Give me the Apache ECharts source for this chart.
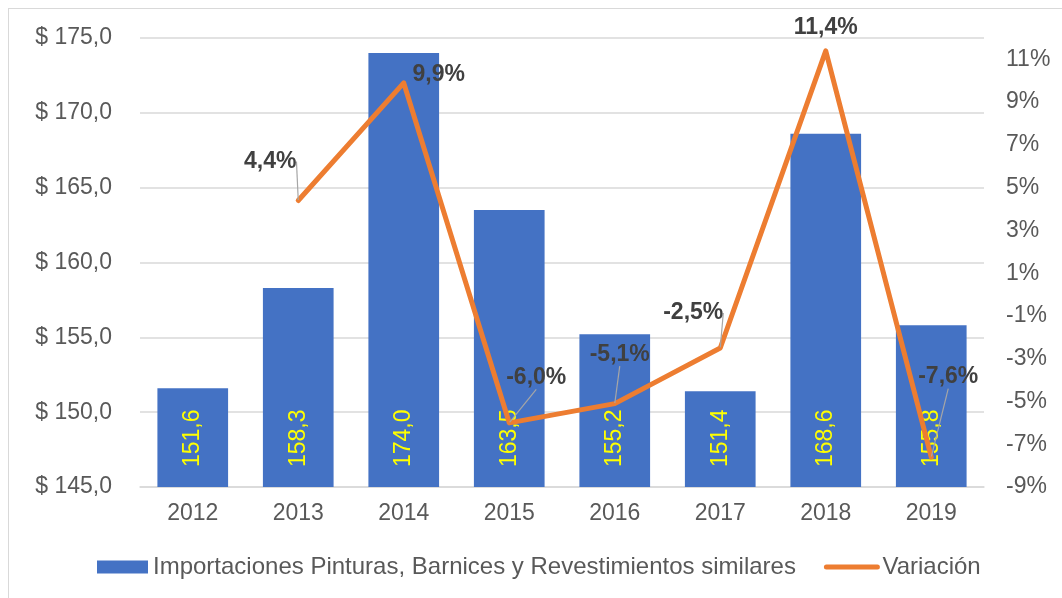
<!DOCTYPE html>
<html>
<head>
<meta charset="utf-8">
<script src="https://cdn.jsdelivr.net/npm/echarts@6/dist/echarts.min.js"></script>
<style>
  html, body { margin: 0; padding: 0; background: #fff; }
  #wrap { position: relative; width: 1062px; height: 598px; overflow: hidden; }
  #frame { position: absolute; left: 8px; top: 8px; width: 1200px; height: 800px; border: 1px solid #d9d9d9; }
  #chart { position: absolute; left: 0; top: 0; width: 1062px; height: 598px; }
</style>
</head>
<body>
<div id="wrap">
  <div id="frame"></div>
  <div id="chart"></div>
</div>
<script>
var years = ['2012', '2013', '2014', '2015', '2016', '2017', '2018', '2019'];
var imports = [151.6, 158.3, 174.0, 163.5, 155.2, 151.4, 168.6, 155.8];
var variation = [null, 4.4, 9.9, -6.0, -5.1, -2.5, 11.4, -7.6];

// where each % label sits relative to its point
var labelShift = [[0, 0], [-28, -22], [35, 9], [27, -28], [5, -32], [-27, -18], [0, -6], [17, -63]];
var noGuide = [2, 6];

var chart = echarts.init(document.getElementById('chart'));

function comma(v, d) {
    return v.toFixed(d).replace('.', ',');
}

var barName = 'Importaciones Pinturas, Barnices y Revestimientos similares';

var option = {
    animation: false,
    textStyle: { fontFamily: 'Liberation Sans, Arial, sans-serif' },
    grid: { left: 140, right: 78, top: 38, bottom: 111 },
    legend: {
        left: 92,
        top: 550,
        itemWidth: 51,
        itemHeight: 13,
        itemGap: 28,
        textStyle: { fontSize: 24, color: '#595959' },
        data: [
            { name: barName, icon: 'rect' },
            { name: 'Variación', itemStyle: { opacity: 0 }, lineStyle: { width: 5, cap: 'round', color: '#ED7D31' } }
        ]
    },
    xAxis: {
        type: 'category',
        data: years,
        axisLine: { onZero: false, lineStyle: { color: '#d9d9d9', width: 1.5 } },
        axisTick: { show: false },
        axisLabel: { fontSize: 23, color: '#595959', margin: 15 }
    },
    yAxis: [{
        type: 'value',
        min: 145,
        max: 175,
        interval: 5,
        axisLine: { show: false },
        axisTick: { show: false },
        splitLine: { lineStyle: { color: '#d9d9d9', width: 1.5 } },
        axisLabel: {
            fontSize: 23,
            color: '#595959',
            margin: 28,
            formatter: function (v) { return '$ ' + comma(v, 1); }
        }
    }, {
        type: 'value',
        min: -9,
        max: 12,
        interval: 1,
        axisLine: { show: false },
        axisTick: { show: false },
        splitLine: { show: false },
        axisLabel: {
            fontSize: 23,
            color: '#595959',
            margin: 22,
            formatter: function (v) {
                return (Math.abs(v % 2) === 1 && v <= 11) ? v + '%' : '';
            }
        }
    }],
    series: [{
        name: barName,
        type: 'bar',
        data: imports,
        barWidth: '67%',
        itemStyle: { color: '#4472C4' },
        label: {
            show: true,
            position: 'insideBottom',
            distance: 20,
            rotate: 90,
            align: 'left',
            verticalAlign: 'middle',
            fontSize: 23,
            color: '#ffff00',
            formatter: function (p) { return comma(p.value, 1); }
        }
    }, {
        name: 'Variación',
        type: 'line',
        yAxisIndex: 1,
        data: variation.map(function (v, i) {
            return noGuide.indexOf(i) >= 0 ? { value: v, labelLine: { show: false } } : v;
        }),
        symbol: 'circle',
        symbolSize: 1,
        itemStyle: { color: '#ED7D31' },
        lineStyle: { color: '#ED7D31', width: 5, cap: 'round', join: 'round' },
        label: {
            show: true,
            position: 'top',
            fontSize: 23,
            fontWeight: 'bold',
            color: '#404040',
            formatter: function (p) { return comma(p.value, 1) + '%'; }
        },
        labelLine: { show: true, lineStyle: { color: '#a6a6a6', width: 1.2 } },
        labelLayout: function (p) {
            var s = labelShift[p.dataIndex];
            return { dx: s[0], dy: s[1] };
        },
        z: 5
    }]
};

chart.setOption(option);
</script>
</body>
</html>
